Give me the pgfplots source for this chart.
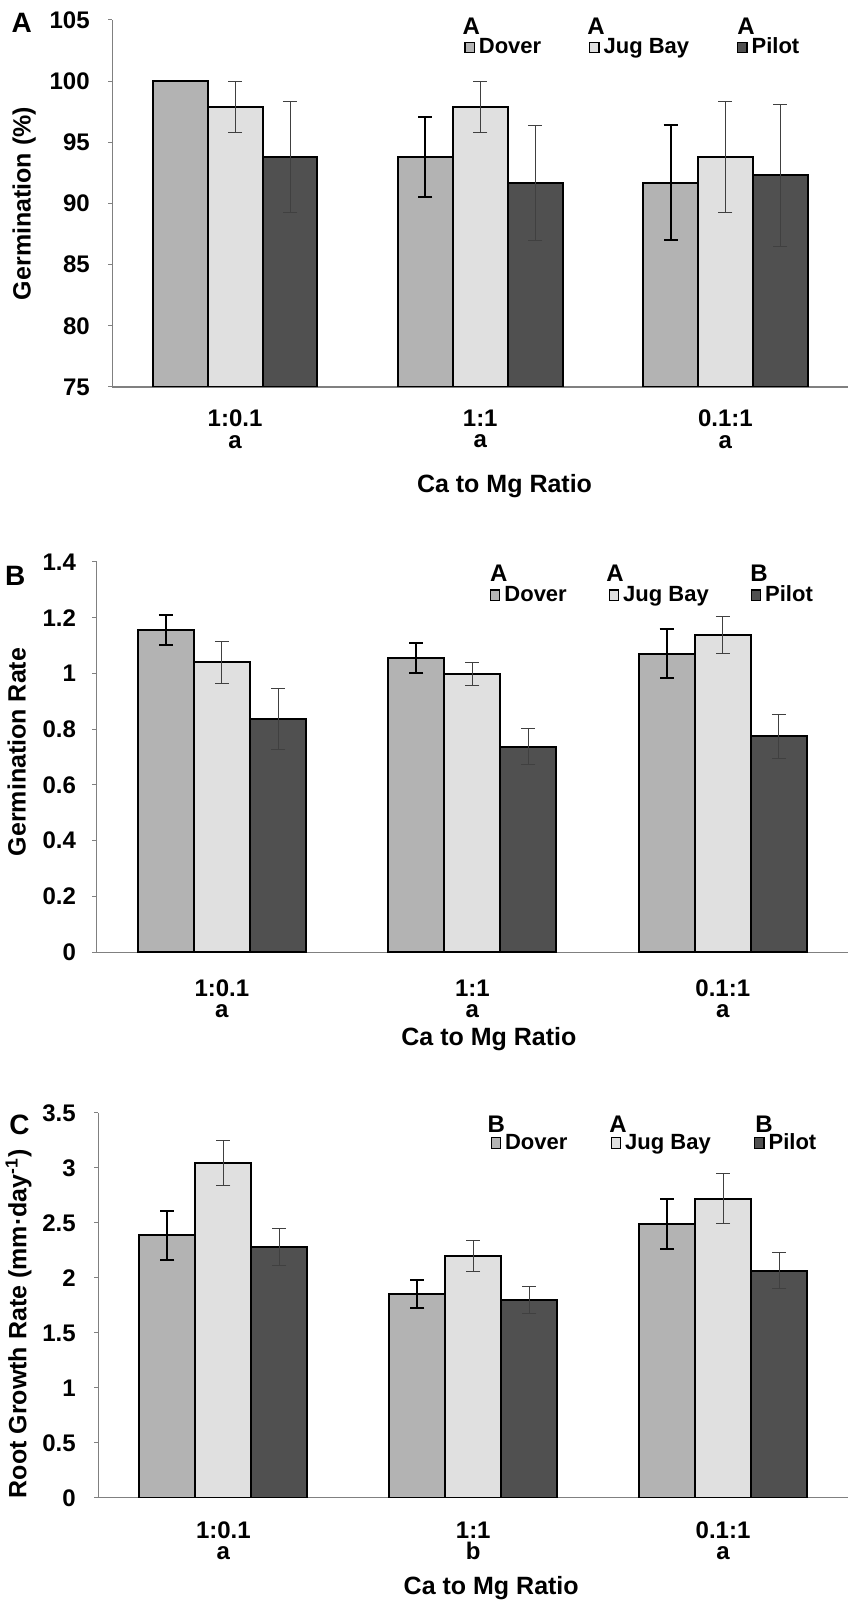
\documentclass[border=0pt]{standalone}
\usepackage{fontspec}
\setmainfont{Liberation Sans}
\usepackage{pgfplots}
\pgfplotsset{compat=1.18}

\definecolor{dover}{HTML}{B3B3B3}
\definecolor{jug}{HTML}{E0E0E0}
\definecolor{pilot}{HTML}{505050}
\definecolor{axgray}{HTML}{808080}

\tikzset{
  letter/.style={font=\fontsize{12}{14}\selectfont\bfseries, anchor=west, inner sep=0pt},
  plabel/.style={font=\fontsize{14}{16}\selectfont\bfseries, anchor=center, inner sep=0pt},
}

\pgfplotsset{
  panel/.style={
    scale only axis, anchor=south west,
    ybar=0pt, bar width=0.224,
    xmin=-0.5, xmax=2.5,
    axis lines*=left,
    axis line style={axgray, line width=0.6pt},
    xtick={0,1,2},
    major x tick style={draw=none},
    extra x ticks={0.5,1.5},
    extra x tick labels={},
    extra x tick style={tick align=inside, major tick length=3.6pt,
      tick style={axgray, line width=0.5pt}},
    tick align=outside,
    major tick length=2.2pt,
    ytick style={axgray, line width=0.5pt},
    yticklabel style={font=\fontsize{12}{12}\selectfont\bfseries, anchor=east, inner sep=0pt},
    /pgf/number format/assume math mode=true,
    label style={font=\fontsize{12.5}{14}\selectfont\bfseries},
    xlabel style={anchor=center},
    ylabel style={anchor=center},
    legend columns=3,
    legend image code/.code={\draw[#1, line width=0.6pt] (0pt,-2.6pt) rectangle (4.6pt,2.6pt);},
    legend style={draw=none, fill=none, anchor=west,
      font=\fontsize{11}{13}\selectfont\bfseries, inner sep=0pt},
    clip mode=individual,
  },
  dov/.style={fill=dover, draw=black, line width=1pt,
    error bars/y dir=both, error bars/y explicit,
    error bars/error bar style={line width=1pt, black},
    error bars/error mark options={rotate=90, line width=1pt, black, mark size=3.5pt}},
  jb/.style={fill=jug, draw=black, line width=1pt,
    error bars/y dir=both, error bars/y explicit,
    error bars/error bar style={line width=0.5pt, black!75},
    error bars/error mark options={rotate=90, line width=0.5pt, black!75, mark size=3.5pt}},
  pil/.style={fill=pilot, draw=black, line width=1pt,
    error bars/y dir=both, error bars/y explicit,
    error bars/error bar style={line width=0.5pt, black!75},
    error bars/error mark options={rotate=90, line width=0.5pt, black!75, mark size=3.5pt}},
}

\begin{document}
\begin{tikzpicture}
\useasboundingbox (0,0) rectangle (424.5pt,801.5pt);

% A: germination percentage
\begin{axis}[panel,
    at={(56.25pt,608pt)}, width=367.75pt, height=183.5pt,
    ymin=75, ymax=105, ytick={75,80,...,105},
    yticklabel style={xshift=-9pt},
    xticklabels={{1:0.1\\a},{1:1\\a},{0.1:1\\a}},
    xticklabel style={font=\fontsize{12}{10.75}\selectfont\bfseries, align=center, anchor=north, inner sep=0pt, yshift=-9pt},
    xlabel={Ca to Mg Ratio},
    xlabel style={at={(axis description cs:0.533,-0.270)}},
    ylabel={Germination (\%)},
    ylabel style={at={(axis description cs:-0.120,0.5)}},
    legend style={at={(axis description cs:0.478,0.925)},
      /tikz/every even column/.append style={column sep=22pt}},
  ]
\addplot[dov] coordinates {(0,100) +- (0,0) (1,93.8) +- (0,3.3) (2,91.7) +- (0,4.7)};
\addplot[jb] coordinates {(0,97.9) +- (0,2.1) (1,97.9) +- (0,2.1) (2,93.8) +- (0,4.5)};
\addplot[pil] coordinates {(0,93.8) +- (0,4.5) (1,91.7) +- (0,4.7) (2,92.3) +- (0,5.8)};
\legend{Dover,Jug Bay,Pilot}
\node[letter] at (axis description cs:0.4756,0.982) {A};
\node[letter] at (axis description cs:0.645,0.982) {A};
\node[letter] at (axis description cs:0.849,0.982) {A};
\node[plabel] at (axis description cs:-0.1235,0.993) {A};
\end{axis}

% B: germination rate
\begin{axis}[panel,
    at={(48.35pt,325.4pt)}, width=375.65pt, height=195.1pt,
    ymin=0, ymax=1.4, ytick={0,0.2,...,1.4},
    yticklabel style={xshift=-8pt},
    xticklabels={{1:0.1\\a},{1:1\\a},{0.1:1\\a}},
    xticklabel style={font=\fontsize{12}{10.5}\selectfont\bfseries, align=center, anchor=north, inner sep=0pt, yshift=-11.5pt},
    xlabel={Ca to Mg Ratio},
    xlabel style={at={(axis description cs:0.522,-0.223)}},
    ylabel={Germination Rate},
    ylabel style={at={(axis description cs:-0.1065,0.513)}},
    legend style={at={(axis description cs:0.523,0.915)},
      /tikz/every even column/.append style={column sep=19pt}},
  ]
\addplot[dov] coordinates {(0,1.156) +- (0,0.055) (1,1.055) +- (0,0.055) (2,1.071) +- (0,0.088)};
\addplot[jb] coordinates {(0,1.040) +- (0,0.075) (1,0.998) +- (0,0.042) (2,1.138) +- (0,0.066)};
\addplot[pil] coordinates {(0,0.836) +- (0,0.110) (1,0.738) +- (0,0.065) (2,0.774) +- (0,0.078)};
\legend{Dover,Jug Bay,Pilot}
\node[letter] at (axis description cs:0.523,0.9705) {A};
\node[letter] at (axis description cs:0.678,0.9705) {A};
\node[letter] at (axis description cs:0.8695,0.9705) {B};
\node[plabel] at (axis description cs:-0.1083,0.964) {B};
\end{axis}

% C: root growth rate
\begin{axis}[panel,
    at={(49.25pt,52.6pt)}, width=374.75pt, height=192.4pt,
    ymin=0, ymax=3.5, ytick={0,0.5,...,3.5},
    yticklabel style={xshift=-9pt},
    xticklabels={{1:0.1\\a},{1:1\\b},{0.1:1\\a}},
    xticklabel style={font=\fontsize{12}{10.5}\selectfont\bfseries, align=center, anchor=north, inner sep=0pt, yshift=-9.5pt},
    xlabel={Ca to Mg Ratio},
    xlabel style={at={(axis description cs:0.524,-0.234)}},
    ylabel={Root Growth Rate (mm·day\textsuperscript{-1})},
    ylabel style={at={(axis description cs:-0.1067,0.452)}},
    legend style={at={(axis description cs:0.5227,0.922)},
      /tikz/every even column/.append style={column sep=19.7pt}},
  ]
\addplot[dov] coordinates {(0,2.386) +- (0,0.225) (1,1.855) +- (0,0.130) (2,2.492) +- (0,0.230)};
\addplot[jb] coordinates {(0,3.048) +- (0,0.203) (1,2.198) +- (0,0.143) (2,2.720) +- (0,0.226)};
\addplot[pil] coordinates {(0,2.280) +- (0,0.170) (1,1.800) +- (0,0.120) (2,2.067) +- (0,0.164)};
\legend{Dover,Jug Bay,Pilot}
\node[letter] at (axis description cs:0.5187,0.970) {B};
\node[letter] at (axis description cs:0.681,0.970) {A};
\node[letter] at (axis description cs:0.876,0.970) {B};
\node[plabel] at (axis description cs:-0.1053,0.969) {C};
\end{axis}
\end{tikzpicture}
\end{document}
